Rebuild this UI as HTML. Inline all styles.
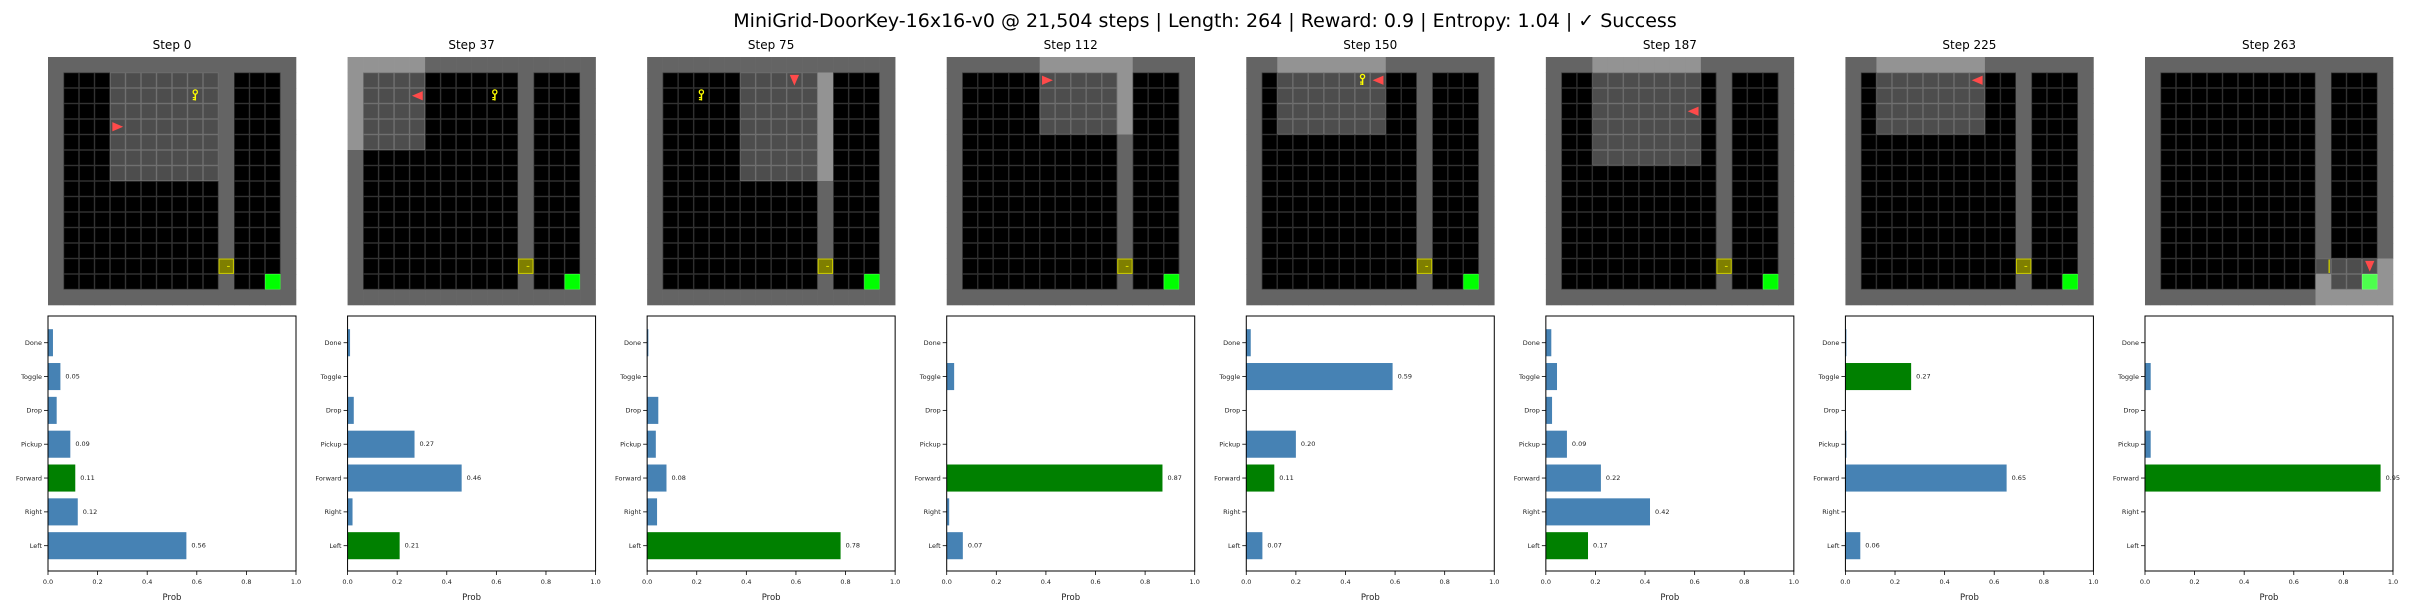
<!DOCTYPE html>
<html><head><meta charset="utf-8"><style>
html,body{margin:0;padding:0;background:#fff;}
svg{display:block;font-family:"DejaVu Sans","Liberation Sans",sans-serif;}
</style></head><body>
<svg id="fig" width="2411" height="611" viewBox="0 0 2411 611" xmlns="http://www.w3.org/2000/svg">
<rect width="2411" height="611" fill="#fff"/>
<text x="1205" y="27" font-size="19" text-anchor="middle" fill="#000">MiniGrid-DoorKey-16x16-v0 @ 21,504 steps | Length: 264 | Reward: 0.9 | Entropy: 1.04 | ✓ Success</text>
<g id="root"></g>
</svg>
<script>
// ---- data ----
const actions = ["Left","Right","Forward","Pickup","Drop","Toggle","Done"];
const stepLabels = [0,37,75,112,150,187,225,263];
const probs0 = [0.558,0.12,0.11,0.09,0.035,0.05,0.02];
const probs1 = [0.21,0.02,0.46,0.27,0.025,0.0,0.01];
const probs2 = [0.78,0.04,0.078,0.035,0.045,0.0,0.005];
const probs3 = [0.065,0.01,0.87,0.0,0.0,0.03,0.0];
const probs4 = [0.065,0.0,0.113,0.20,0.0,0.59,0.018];
const probs5 = [0.17,0.42,0.222,0.085,0.025,0.045,0.022];
const probs6 = [0.06,0.0,0.65,0.004,0.0,0.265,0.004];
const probs7 = [0.0,0.0,0.95,0.023,0.0,0.023,0.0];
const probSets = [probs0,probs1,probs2,probs3,probs4,probs5,probs6,probs7];
const chosenAction = [2,0,0,2,2,0,5,2];
const xTicks = [0,0.2,0.4,0.6,0.8,1.0];
// agent state per panel: col,row,dir (0 right,1 down,2 left,3 up)
const agentCol = [4,4,9,6,8,9,8,14];
const agentRow = [4,2,1,1,1,3,1,13];
const agentDir = [0,2,1,0,2,2,2,1];
const keyCol = [9,9,3,null,7,null,null,null];
const keyRow = [2,2,2,null,1,null,null,null];
const doorOpen = [false,false,false,false,false,false,false,true];

// ---- layout ----
const NS="http://www.w3.org/2000/svg";
const root=document.getElementById('root');
const P0=48, STRIDE=299.57, IMG_Y=57, IMG=248, N=16, CELL=IMG/N;
const AX_TOP=316, AX_BOT=571, AX_W=248;
const UNIT=33.83, BAR_H=0.8*UNIT, Y0=545.7;
const WALL_COL=11, DOOR_ROW=13, GOAL_C=14, GOAL_R=14;
function mk(tag,attrs,parent){const e=document.createElementNS(NS,tag);for(const k in attrs)e.setAttribute(k,attrs[k]);(parent||root).appendChild(e);return e;}
function hl(rgb){return rgb.map(c=>Math.round(c+0.3*(255-c)));}
function css(rgb){return 'rgb('+rgb.join(',')+')';}

function visible(p,c,r){
  const ac=agentCol[p], ar=agentRow[p], d=agentDir[p];
  let c0,c1,r0,r1;
  if(d===0){c0=ac;c1=ac+6;r0=ar-3;r1=ar+3;}
  else if(d===2){c0=ac-6;c1=ac;r0=ar-3;r1=ar+3;}
  else if(d===1){c0=ac-3;c1=ac+3;r0=ar;r1=ar+6;}
  else {c0=ac-3;c1=ac+3;r0=ar-6;r1=ar;}
  if(c<c0||c>c1||r<r0||r>r1) return false;
  if(ac<WALL_COL && c>WALL_COL) return false;
  return true;
}

for(let p=0;p<8;p++){
  const x0=P0+p*STRIDE;
  const g=mk('g',{});
  
  
  const t=mk('text',{x:x0+IMG/2,y:49,'font-size':12,'text-anchor':'middle',fill:'#000'},g);
  t.textContent='Step '+stepLabels[p];
  
  
  const gi=mk('g',{},g);
  
  
  for(let r=0;r<N;r++)for(let c=0;c<N;c++){
    const isWall = r===0||r===N-1||c===0||c===N-1||(c===WALL_COL&&r!==DOOR_ROW);
    const isDoor = c===WALL_COL&&r===DOOR_ROW;
    const isGoal = c===GOAL_C&&r===GOAL_R;
    let col = isWall?[100,100,100]:isGoal?[0,255,0]:(isDoor&&!doorOpen[p])?[127,127,0]:[0,0,0];
    const vis=visible(p,c,r);
    if(vis) col=hl(col);
    const x=x0+c*CELL, y=IMG_Y+r*CELL;
    mk('rect',{x:x,y:y,width:CELL+0.3,height:CELL+0.3,fill:css(col)},gi);
    if(!isWall) mk('rect',{x:x+0.35,y:y+0.35,width:CELL-0.7,height:CELL-0.7,fill:'none',stroke:'rgba(255,255,255,0.2)','stroke-width':0.7},gi);
    if(isDoor){
      if(doorOpen[p]){
        mk('rect',{x:x+CELL-2.5,y:y+1,width:1.4,height:CELL-2,fill:'#c8c800'},gi);
      } else {
        mk('rect',{x:x+0.6,y:y+0.6,width:CELL-1.2,height:CELL-1.2,fill:'none',stroke:'#c8c800','stroke-width':1},gi);
        mk('rect',{x:x+CELL*0.55,y:y+CELL*0.48,width:CELL*0.18,height:1,fill:'#e0e000'},gi);
      }
    }
  }
  if(keyCol[p]!==null){
    const kx=x0+keyCol[p]*CELL+CELL/2, ky=IMG_Y+keyRow[p]*CELL;
    const k=mk('g',{},gi);
    
    
    mk('circle',{cx:kx,cy:ky+4,r:2.1,fill:'none',stroke:'#ffff00','stroke-width':1.3},k);
    mk('rect',{x:kx-0.7,y:ky+5.5,width:1.5,height:7,fill:'#ffff00'},k);
    mk('rect',{x:kx-2.5,y:ky+9,width:2,height:1.2,fill:'#ffff00'},k);
    mk('rect',{x:kx-2.5,y:ky+11,width:2,height:1.2,fill:'#ffff00'},k);
  }
  const ax=x0+agentCol[p]*CELL, ay=IMG_Y+agentRow[p]*CELL;
  const base=[[0.15,0.2],[0.85,0.5],[0.15,0.8]];
  const ang=agentDir[p]*Math.PI/2;
  const pts=base.map(([u,v])=>{const dx=u-0.5,dy=v-0.5;const rx=dx*Math.cos(ang)-dy*Math.sin(ang),ry=dx*Math.sin(ang)+dy*Math.cos(ang);return (ax+(rx+0.5)*CELL).toFixed(2)+','+(ay+(ry+0.5)*CELL).toFixed(2);}).join(' ');
  const ag=mk('polygon',{points:pts,fill:'#ff4a4a'},gi);
  
  

  const bc=mk('g',{},g);
  
  
  const xs=v=>x0+v*AX_W;
  const ys=i=>Y0-i*UNIT;
  const vals=probSets[p];
  vals.forEach((v,i)=>{
    const b=mk('rect',{x:xs(0),y:ys(i)-BAR_H/2,width:Math.max(0,xs(v)-xs(0)),height:BAR_H,fill:i===chosenAction[p]?'#008000':'#4682b4'},bc);
    
    
    if(v>=0.05){
      const l=mk('text',{x:xs(v)+5,y:ys(i)+2,'font-size':6.5,fill:'#222'},bc);
      l.textContent=v.toFixed(2);
      
      
    }
    mk('line',{x1:xs(0)-4,x2:xs(0),y1:ys(i),y2:ys(i),stroke:'#000','stroke-width':0.8},bc);
    const yl=mk('text',{x:xs(0)-6,y:ys(i)+2.3,'font-size':6.5,'text-anchor':'end',fill:'#222'},bc);
    yl.textContent=actions[i];
    
    
  });
  xTicks.forEach(v=>{
    mk('line',{x1:xs(v),x2:xs(v),y1:AX_BOT,y2:AX_BOT+4,stroke:'#000','stroke-width':0.8},bc);
    const tl=mk('text',{x:xs(v),y:AX_BOT+13,'font-size':6.5,'text-anchor':'middle',fill:'#222'},bc);
    tl.textContent=v.toFixed(1);
    
    
  });
  const fr=mk('rect',{x:x0,y:AX_TOP,width:AX_W,height:AX_BOT-AX_TOP,fill:'none',stroke:'#000','stroke-width':1},bc);
  
  
  const xl=mk('text',{x:x0+AX_W/2,y:600,'font-size':8.5,'text-anchor':'middle',fill:'#222'},bc);
  xl.textContent='Prob';
  
  
}
</script>
</body></html>
